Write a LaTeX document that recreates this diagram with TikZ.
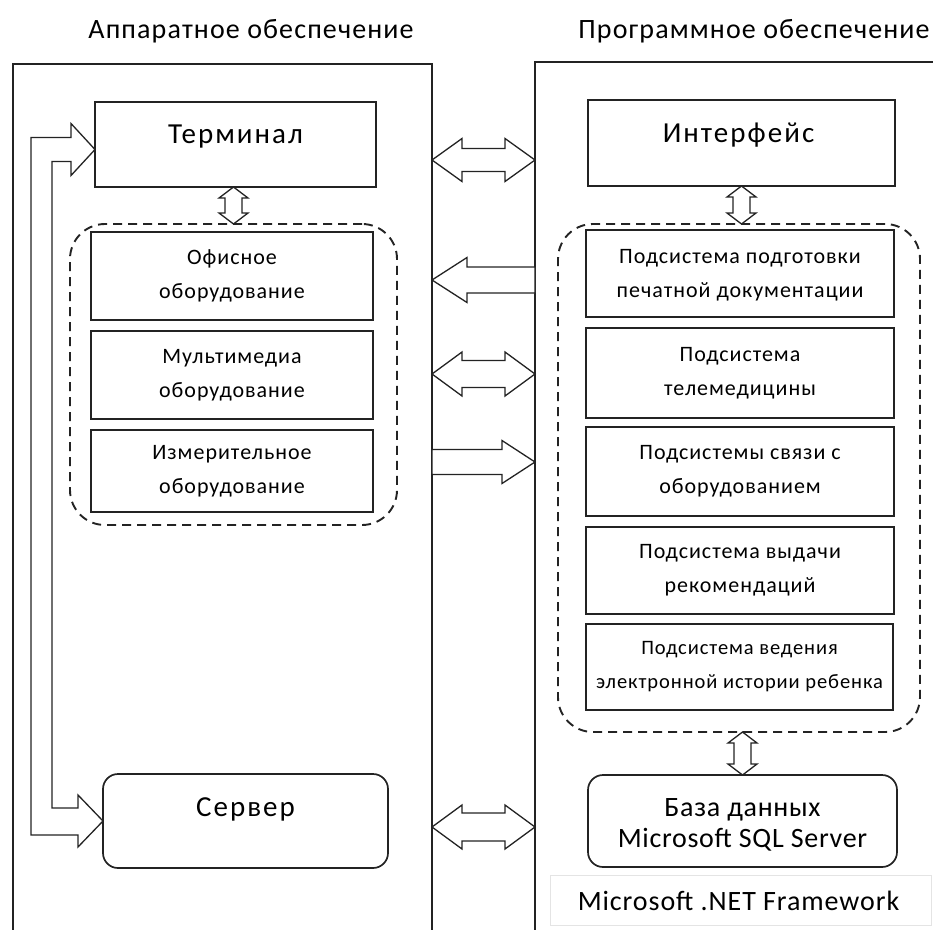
\documentclass[tikz,border=0pt]{standalone}
\usepackage{fontspec}
\setmainfont{Carlito}
\usetikzlibrary{calc}
\definecolor{ink}{RGB}{35,35,35}
\definecolor{faint}{RGB}{228,228,228}
% size, leading, letter spacing
\newcommand\fs[3]{\fontsize{#1}{#2}\selectfont\addfontfeature{LetterSpace=#3}}

\tikzset{
  outline/.style={draw=ink, line width=1.7pt, inner sep=0pt, outer sep=0pt},
  panel/.style={outline},
  box/.style={outline, fill=white, align=center, font=\fs{22}{34}{4.5}},
  rbox/.style={box, rounded corners=15pt},
  group/.style={draw=ink, line width=1.9pt, dash pattern=on 9pt off 6pt,
    rounded corners=35pt, inner sep=0pt, outer sep=0pt},
  title/.style={font=\fs{28}{28}{4}, inner sep=0pt, anchor=base},
  big/.style={font=\fs{29}{29}{7}, inner sep=0pt, anchor=base},
  blockarr/.style={draw=ink, line width=1.3pt, fill=white, line join=miter},
}

% horizontal hollow double arrow: tip #1 -- tip #2, shaft half width #3,
% head half width #4, head length #5
\newcommand\dblarrowH[5]{%
  \draw[blockarr] let \p1=(#1), \p2=(#2) in
    (\x1,\y1) -- (\x1+#5pt,\y1+#4pt) -- (\x1+#5pt,\y1+#3pt)
    -- (\x2-#5pt,\y1+#3pt) -- (\x2-#5pt,\y1+#4pt) -- (\x2,\y1)
    -- (\x2-#5pt,\y1-#4pt) -- (\x2-#5pt,\y1-#3pt)
    -- (\x1+#5pt,\y1-#3pt) -- (\x1+#5pt,\y1-#4pt) -- cycle;}
% vertical hollow double arrow: upper tip #1 -- lower tip #2
\newcommand\dblarrowV[5]{%
  \draw[blockarr] let \p1=(#1), \p2=(#2) in
    (\x1,\y1) -- (\x1+#4pt,\y1-#5pt) -- (\x1+#3pt,\y1-#5pt)
    -- (\x1+#3pt,\y2+#5pt) -- (\x1+#4pt,\y2+#5pt) -- (\x1,\y2)
    -- (\x1-#4pt,\y2+#5pt) -- (\x1-#3pt,\y2+#5pt)
    -- (\x1-#3pt,\y1-#5pt) -- (\x1-#4pt,\y1-#5pt) -- cycle;}
% horizontal hollow single arrow: tail #1 -> tip #2; #5 is the signed
% head length (positive when pointing right)
\newcommand\sglarrowH[5]{%
  \draw[blockarr] let \p1=(#1), \p2=(#2) in
    (\x1,\y1+#3pt) -- ({\x2-(#5pt)},\y1+#3pt) -- ({\x2-(#5pt)},\y1+#4pt)
    -- (\x2,\y1) -- ({\x2-(#5pt)},\y1-#4pt) -- ({\x2-(#5pt)},\y1-#3pt)
    -- (\x1,\y1-#3pt) -- cycle;}

\begin{document}
\begin{tikzpicture}[x=1pt,y=-1pt]
  \useasboundingbox (0,0) rectangle (933,929);
  \clip (0,0) rectangle (933,929);

  % column headings
  \node[title] (hwtitle) at (251,38) {Аппаратное обеспечение};
  \node[title] (swtitle) at (754,38) {Программное обеспечение};

  % the two columns (they run past the lower and right edges)
  \node[panel, minimum width=419pt, minimum height=880pt] (hw) at (222.5,504) {};
  \node[panel, minimum width=420pt, minimum height=880pt] (sw) at (745,502) {};

  % hardware column
  \node[group, minimum width=327pt, minimum height=301pt] (lgroup) at (233.5,374.5) {};
  \node[box, minimum width=281pt, minimum height=85pt] (term) at (235.5,144.5) {};
  \node[big] (termtxt) at ($(term.center)+(0,-1.5)$) {Терминал};
  \node[box, minimum width=282pt, minimum height=88pt] (office) at (232,276)
    {Офисное\\оборудование};
  \node[box, minimum width=282pt, minimum height=88pt] (media) at (232,375)
    {Мультимедиа\\оборудование};
  \node[box, minimum width=282pt, minimum height=82pt] (meas) at (232,471)
    {Измерительное\\оборудование};
  \node[rbox, minimum width=285pt, minimum height=94pt] (srv) at (245.5,821) {};
  \node[big] (srvtxt) at ($(srv.center)+(0,-5)$) {Сервер};

  % software column
  \node[group, minimum width=362pt, minimum height=508pt] (rgroup) at (739,478) {};
  \node[box, minimum width=307pt, minimum height=86pt] (intf) at (741.5,143) {};
  \node[big] (intftxt) at ($(intf.center)+(-3,-1)$) {Интерфейс};
  \node[box, minimum width=308pt, minimum height=87pt, text depth=0pt] (print) at (740,273.5)
    {Подсистема подготовки\\печатной документации};
  \node[box, minimum width=308pt, minimum height=90pt] (tele) at (740,373)
    {Подсистема\\телемедицины};
  \node[box, minimum width=308pt, minimum height=89pt] (link) at (740,471.5)
    {Подсистемы связи с\\оборудованием};
  \node[box, minimum width=308pt, minimum height=87pt] (advice) at (740,570.5)
    {Подсистема выдачи\\рекомендаций};
  \node[box, minimum width=307pt, minimum height=86pt, font=\fs{20.5}{34}{4.5}] (history) at (739.5,667)
    {Подсистема ведения\\электронной истории ребенка};
  \node[rbox, minimum width=309pt, minimum height=92pt] (db) at (742.5,821) {};
  \node[font=\fs{28}{31}{2.5}, align=center, inner sep=0pt] (dbtxt) at ($(db.center)+(0,4)$)
    {База данных\\Microsoft SQL Server};
  \node[draw=faint, line width=1pt, inner sep=0pt, minimum width=381pt, minimum height=50pt] (net) at (740.5,900) {};
  \node[font=\fs{28}{28}{3.3}, inner sep=0pt, anchor=base] (nettxt) at ($(net.center)+(-2,10)$) {Microsoft .NET Framework};

  % links inside the columns
  \dblarrowV{lgroup.north |- term.south}{lgroup.north}{8.5}{14.5}{11}
  \dblarrowV{intf.south}{intf.south |- rgroup.north}{8.5}{14.5}{11}
  \dblarrowV{db.north |- rgroup.south}{db.north}{8.5}{14.5}{11}

  % server <-> terminal loop
  \draw[blockarr] let \p1=($(term.west)+(0,5)$), \p2=(srv.west) in
    (\x1,\y1) -- (\x1-24pt,\y1+26pt) -- (\x1-24pt,\y1+12pt)
    -- (\x1-64pt,\y1+12pt) -- (\x1-64pt,\y2-14pt)
    -- (\x2-25pt,\y2-14pt) -- (\x2-25pt,\y2-26pt) -- (\x2,\y2)
    -- (\x2-25pt,\y2+26pt) -- (\x2-25pt,\y2+13pt)
    -- (\x1-43pt,\y2+13pt) -- (\x1-43pt,\y1-12pt)
    -- (\x1-24pt,\y1-12pt) -- (\x1-24pt,\y1-26pt) -- cycle;

  % links between the columns
  \dblarrowH{$(hw.east |- term.center)+(0,15.5)$}{$(sw.west |- term.center)+(0,15.5)$}{11.5}{21.5}{30}
  \sglarrowH{$(sw.west |- print.center)+(0,6.5)$}{$(hw.east |- print.center)+(0,6.5)$}{13}{22.5}{-35}
  \dblarrowH{$(hw.east |- media.center)+(0,-1)$}{$(sw.west |- media.center)+(0,-1)$}{13.5}{22}{30}
  \sglarrowH{$(hw.east |- meas.center)+(0,-9)$}{$(sw.west |- meas.center)+(0,-9)$}{12.5}{21.5}{33}
  \dblarrowH{$(hw.east |- srv.center)+(0,6)$}{$(sw.west |- srv.center)+(0,6)$}{14}{22}{30}
\end{tikzpicture}
\end{document}
